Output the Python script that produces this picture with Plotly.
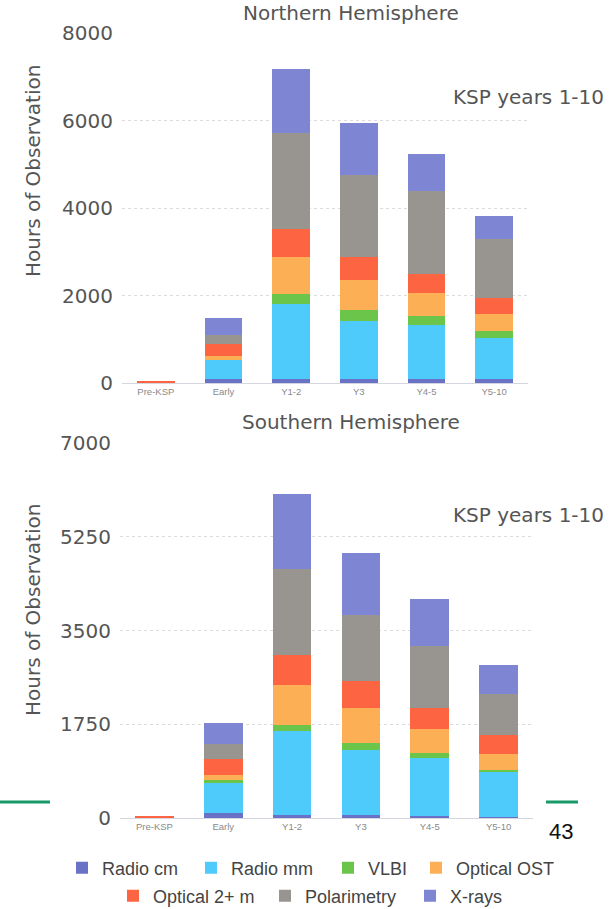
import plotly.graph_objects as go

categories = ["Pre-KSP", "Early", "Y1-2", "Y3", "Y4-5", "Y5-10"]
series_names = ["Radio cm", "Radio mm", "VLBI", "Optical OST",
                "Optical 2+ m", "Polarimetry", "X-rays"]

north_radio_cm = [0, 85, 100, 100, 100, 85]
north_radio_mm = [0, 450, 1700, 1325, 1225, 935]
north_vlbi = [0, 0, 230, 240, 215, 175]
north_optical_ost = [0, 90, 845, 690, 520, 375]
north_optical_2m = [25, 260, 635, 520, 440, 370]
north_polarimetry = [0, 220, 2210, 1880, 1880, 1355]
north_xrays = [0, 375, 1450, 1180, 865, 520]

south_radio_cm = [0, 100, 50, 50, 30, 20]
south_radio_mm = [0, 553, 1567, 1225, 1096, 838]
south_vlbi = [0, 50, 125, 125, 93, 44]
south_optical_ost = [0, 93, 734, 653, 436, 298]
south_optical_2m = [30, 311, 560, 510, 404, 355]
south_polarimetry = [0, 280, 1617, 1219, 1151, 765]
south_xrays = [0, 386, 1399, 1169, 871, 541]

north_ticks = [0, 2000, 4000, 6000, 8000]
south_ticks = [0, 1750, 3500, 5250, 7000]

colors = ["#6a72c6", "#4fcbfb", "#6cc54b", "#fdaf55", "#fd6442", "#989591", "#7e85d3"]

north = [north_radio_cm, north_radio_mm, north_vlbi, north_optical_ost,
         north_optical_2m, north_polarimetry, north_xrays]
south = [south_radio_cm, south_radio_mm, south_vlbi, south_optical_ost,
         south_optical_2m, south_polarimetry, south_xrays]

W, H = 610, 909
def px(x):
    return x / W
def py(y):
    return 1 - y / H

# legend placement (symbol left edge, row centre) in pixels
legend_pos = [(76, 868), (205, 868), (342, 868), (430, 868),
              (127, 896), (279, 896), (424, 896)]
legend_ids = ["legend"] + ["legend%d" % k for k in range(2, 8)]

fig = go.Figure()
for i, name in enumerate(series_names):
    fig.add_trace(go.Bar(x=categories, y=north[i], name=name, marker_color=colors[i],
                         marker_line_width=0, legendgroup=name, showlegend=True,
                         legend=legend_ids[i], xaxis="x", yaxis="y"))
for i, name in enumerate(series_names):
    fig.add_trace(go.Bar(x=categories, y=south[i], name=name, marker_color=colors[i],
                         marker_line_width=0, legendgroup=name, showlegend=False,
                         xaxis="x2", yaxis="y2"))

tick_font = dict(family="DejaVu Sans", size=20, color="#555555")
xtick_font = dict(family="Liberation Sans", size=9.5, color="#8a8a8a")
grid = dict(showgrid=True, gridcolor="#dcdcdc", griddash="dot", gridwidth=1)

layout = dict(
    width=W, height=H,
    margin=dict(l=0, r=0, t=0, b=0, autoexpand=False),
    paper_bgcolor="white", plot_bgcolor="white",
    barmode="stack", bargap=0.44,
    xaxis=dict(domain=[px(122), px(528)], anchor="y", showline=True, linecolor="#d6d6e0",
               linewidth=1, tickfont=xtick_font, ticks="", showgrid=False),
    yaxis=dict(domain=[py(383), py(33)], anchor="x", range=[0, 8000], tickvals=north_ticks,
               tickfont=tick_font, zeroline=False, ticklabelstandoff=8, **grid),
    xaxis2=dict(domain=[px(120), px(533)], anchor="y2", showline=True, linecolor="#d6d6e0",
                linewidth=1, tickfont=xtick_font, ticks="", showgrid=False),
    yaxis2=dict(domain=[py(818), py(443)], anchor="x2", range=[0, 7000], tickvals=south_ticks,
                tickfont=tick_font, zeroline=False, ticklabelstandoff=8, **grid),
    showlegend=True,
)
for lid, (sx, sy) in zip(legend_ids, legend_pos):
    layout[lid] = dict(orientation="h", x=px(sx - 14), xanchor="left", y=py(sy),
                       yanchor="middle",
                       font=dict(family="Liberation Sans", size=18, color="#444444"),
                       bgcolor="rgba(0,0,0,0)")
fig.update_layout(**layout)

title_font = dict(family="DejaVu Sans", size=20, color="#555555")
for text, yc in [("Northern Hemisphere", 13), ("Southern Hemisphere", 422)]:
    fig.add_annotation(text=text, xref="paper", yref="paper", x=px(351), y=py(yc),
                       showarrow=False, xanchor="center", yanchor="middle", font=title_font)
for yc in [97, 515]:
    fig.add_annotation(text="KSP years 1-10", xref="paper", yref="paper", x=px(606), y=py(yc),
                       xanchor="right", yanchor="middle", showarrow=False, font=title_font)
for yc in [171, 610]:
    fig.add_annotation(text="Hours of Observation", xref="paper", yref="paper", x=px(33), y=py(yc),
                       xanchor="center", yanchor="middle", textangle=-90, showarrow=False,
                       font=title_font)
fig.add_annotation(text="43", xref="paper", yref="paper", x=px(561), y=py(831),
                   xanchor="center", yanchor="middle", showarrow=False,
                   font=dict(family="Liberation Sans", size=22, color="#111111"))

for x0, x1 in [(0, 50), (546, 578)]:
    fig.add_shape(type="line", xref="paper", yref="paper", x0=px(x0), x1=px(x1),
                  y0=py(802), y1=py(802), line=dict(color="#17996a", width=3))

fig.write_html("out.html", config={"displayModeBar": False},
               post_script="document.body.style.margin='0px';")
